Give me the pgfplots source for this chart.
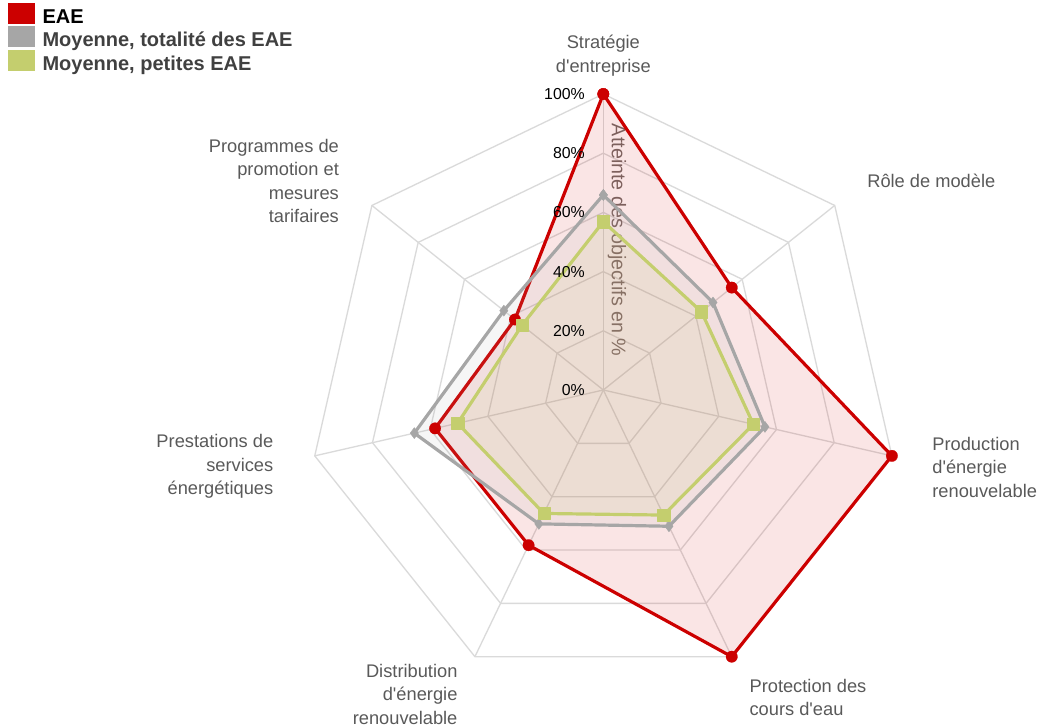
\documentclass[border=0pt]{standalone}
\usepackage{pgfplots}
\pgfplotsset{compat=1.18}
\usepackage{pgfplotstable}
\usepgfplotslibrary{polar}
\usepackage{fontspec}
\setmainfont{Liberation Sans}

\definecolor{eaered}{RGB}{204,0,0}
\definecolor{eaegrey}{RGB}{166,166,166}
\definecolor{eaegreen}{RGB}{196,206,110}
\definecolor{gridc}{RGB}{218,218,218}
\definecolor{labc}{RGB}{89,89,89}
\definecolor{legc}{RGB}{64,64,64}
\definecolor{titc}{RGB}{117,108,104}

% angle in degrees (clockwise from the top), values in %
\pgfplotstableread{
angle     eae   tot   small
90        100   65.9  56.9
38.571    55.5  47.4  42.4
-12.857   100   56.0  52.0
-64.286   100   51.1  46.9
-115.714  58.2  50.2  46.3
-167.143  58.3  65.5  50.5
141.429   38.2  43.0  35.1
90        100   65.9  56.9
}\radar

\begin{document}
\begin{tikzpicture}
\begin{polaraxis}[
  scale only axis,
  width=444pt, height=444pt,
  ymin=0, ymax=100,
  hide axis,
  clip=false,
  legend cell align=left,
  legend style={at={(-0.5056,1.1537)}, anchor=north west, draw=none, fill=none,
    inner sep=0pt, outer sep=0pt, row sep=-1.5pt,
    font=\bfseries\fontsize{15}{18}\selectfont,
    nodes={inner sep=0pt, text height=11pt, text depth=3.5pt},
    /tikz/every odd column/.append style={column sep=6pt}},
]
% grid
\pgfplotsinvokeforeach{20,40,60,80,100}{
  \addplot[gridc, line width=1pt, forget plot] coordinates {(90,#1) (38.571,#1) (-12.857,#1) (-64.286,#1) (-115.714,#1) (-167.143,#1) (141.429,#1) (90,#1)};
}
\pgfplotsinvokeforeach{90,38.571,-12.857,-64.286,-115.714,-167.143,141.429}{
  \addplot[gridc, line width=1pt, forget plot] coordinates {(#1,0) (#1,100)};
}

\node[rotate=-90, text=titc, inner sep=0pt, font=\fontsize{14.8}{17}\selectfont] at ([xshift=10.3pt]axis cs:90,50.6) {Atteinte des objectifs en \%};

% series
\addplot[draw=eaered, line width=2.4pt, line join=round, fill=eaered, fill opacity=0.1,
  mark=*, mark size=4.3pt, mark options={fill=eaered, draw=eaered, fill opacity=1, line width=0.2pt}, forget plot]
  table[x=angle, y=eae] {\radar};
\addplot[draw=eaegrey, line width=2.4pt, line join=round, fill=eaegrey, fill opacity=0.1,
  mark=diamond*, mark size=4.2pt, mark options={fill=eaegrey, draw=eaegrey, fill opacity=1, line width=0.2pt}, forget plot]
  table[x=angle, y=tot] {\radar};
\addplot[draw=eaegreen, line width=2.4pt, line join=round, fill=eaegreen, fill opacity=0.1,
  mark=square*, mark size=4.6pt, mark options={fill=eaegreen, draw=eaegreen, fill opacity=1, line width=0.2pt}, forget plot]
  table[x=angle, y=small] {\radar};

% legend
\addlegendimage{legend image code/.code={\fill[eaered] (0pt,-3.5pt) rectangle (19.5pt,11.5pt);}}
\addlegendentry{\textcolor{black}{EAE}}
\addlegendimage{legend image code/.code={\fill[eaegrey] (0pt,-3.5pt) rectangle (19.5pt,11.5pt);}}
\addlegendentry{\textcolor{legc}{Moyenne, totalité des EAE}}
\addlegendimage{legend image code/.code={\fill[eaegreen] (0pt,-3.5pt) rectangle (19.5pt,11.5pt);}}
\addlegendentry{\textcolor{legc}{Moyenne, petites EAE}}

% radial tick labels
\pgfplotsinvokeforeach{0,20,40,60,80,100}{
  \node[anchor=east, inner sep=0pt, xshift=-13.7pt, font=\fontsize{11.9}{14}\selectfont] at (axis cs:90,#1) {#1\%};
}

% category labels
\begin{scope}[every node/.style={inner sep=0pt, text=labc, font=\fontsize{13.7}{17.6}\selectfont}]
\node[anchor=south, align=center] at (axis cs:90,106.0) {Stratégie\\d\textquotesingle entreprise};
\node[anchor=west, align=left] at (axis cs:38.4,113.7) {Rôle de modèle};
\node[anchor=west, align=left] at (axis cs:-13.2,114.1) {Production\\d\textquotesingle énergie\\renouvelable};
\node[anchor=north west, align=left] at (axis cs:-63.2,109.4) {Protection des\\cours d\textquotesingle eau};
\node[anchor=north east, align=right] at (axis cs:-118.0,104.8) {Distribution\\d\textquotesingle énergie\\renouvelable};
\node[anchor=east, align=right] at (axis cs:193.1,114.4) {Prestations de\\services\\énergétiques};
\node[anchor=east, align=right] at (axis cs:141.66,113.8) {Programmes de\\promotion et\\mesures\\tarifaires};
\end{scope}

\coordinate (c) at (axis cs:0,0);
\end{polaraxis}
\pgfresetboundingbox
\path ([shift={(-452.5pt,-253.5pt)}]c) rectangle ([shift={(327.5pt,292.5pt)}]c);
\end{tikzpicture}
\end{document}
